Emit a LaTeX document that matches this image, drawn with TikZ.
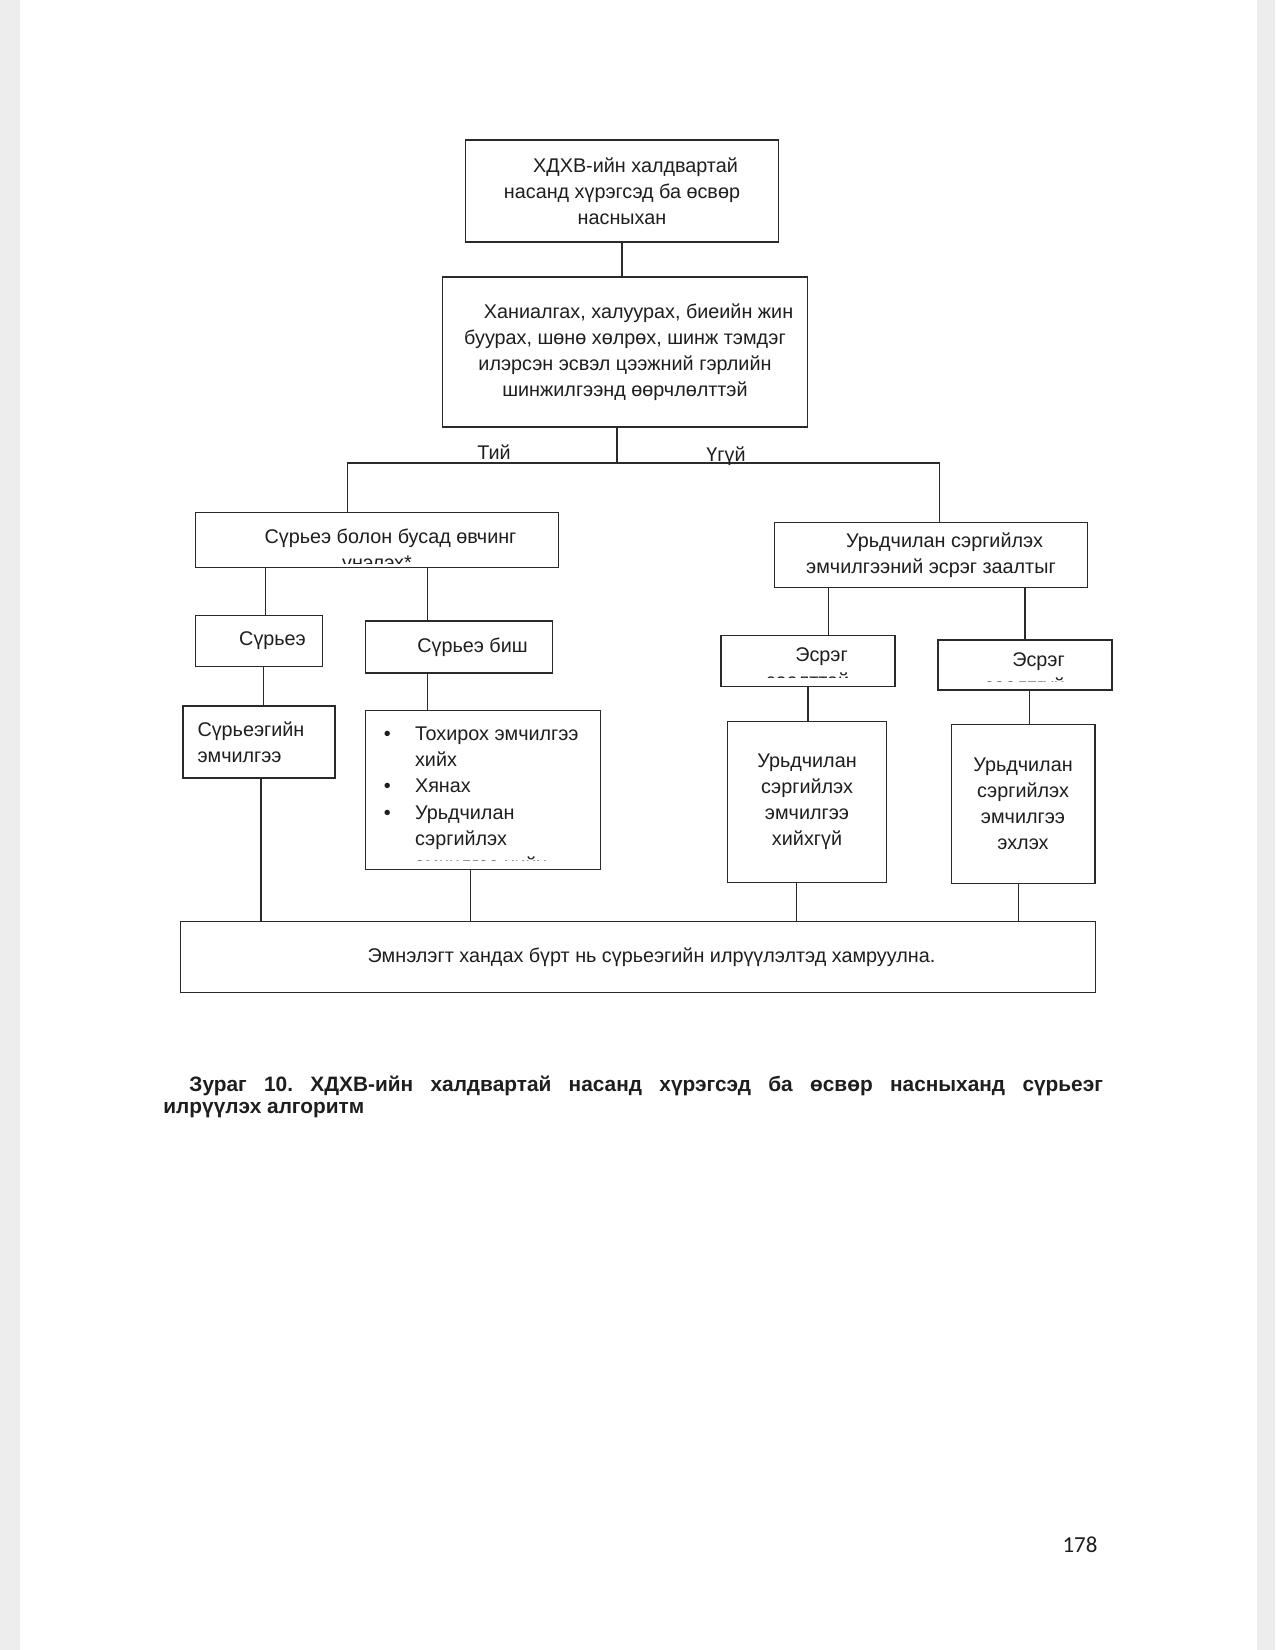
\documentclass[tikz,border=0pt]{standalone}
\usepackage{fontspec}
\setmainfont{Liberation Sans}
\newfontfamily\pagefont{Carlito}
\usetikzlibrary{positioning,calc}
\definecolor{Ink}{HTML}{1E1E1E}
\definecolor{Rule}{HTML}{2A2A2A}
\definecolor{Scan}{HTML}{EDEDED}
\tikzset{
  box/.style={draw=Rule,line width=0.6pt,fill=white,align=center,font=\fontsize{9.5}{12.5}\selectfont,text=Ink,inner sep=0pt},
  txt/.style={align=center,font=\fontsize{9.5}{12.5}\selectfont,text=Ink,inner sep=0pt},
  lbl/.style={font=\fontsize{9.5}{12}\selectfont,text=Ink,inner sep=1pt},
  link/.style={draw=Rule,line width=0.6pt}
}
\newcommand\ind{\hspace*{13pt}}
\newcommand\itm{\makebox[15pt][l]{\textbullet}}

\begin{document}
\begin{tikzpicture}[x=0.48pt,y=-0.48pt]
  \useasboundingbox (0,0) rectangle (1275,1650);
  \fill[Scan] (0,0) rectangle (20,1650);
  \fill[Scan] (1257,0) rectangle (1275,1650);

  % top of the tree
  \node[box,minimum width=150pt,minimum height=49pt] (top) at (622,191) {\ind ХДХВ-ийн халдвартай\\насанд хүрэгсэд ба өсвөр\\насныхан};
  \node[box,minimum width=175pt,minimum height=72pt] (sympt) at (625,352) {\ind Ханиалгах, халуурах, биеийн жин\\буурах, шөнө хөлрөх, шинж тэмдэг\\илэрсэн эсвэл цээжний гэрлийн\\шинжилгээнд өөрчлөлттэй};
  \coordinate (fork) at (617,463);
  \node[lbl] (yes) at (494,452) {Тий};
  \node[lbl] (no) at (726,456) {Үгүй};

  % second level
  \node[box,minimum width=174pt,minimum height=26.5pt] (tbeval) at (377,540) {};
  \begin{scope}
    \clip ([yshift=2.5pt]tbeval.south west) rectangle (tbeval.north east);
    \node[txt,anchor=north] (tbevaltx) at ([yshift=-8pt]tbeval.north) {\ind Сүрьеэ болон бусад өвчинг\\үнэлэх*};
  \end{scope}
  \node[box,minimum width=150pt,minimum height=31pt] (prev) at (931,555) {\ind Урьдчилан сэргийлэх\\эмчилгээний эсрэг заалтыг};

  % third level
  \node[box,minimum width=61pt,minimum height=24.5pt] (tb) at (259,641) {\ind Сүрьеэ};
  \node[box,minimum width=90pt,minimum height=25pt] (nottb) at (459,647) {\ind Сүрьеэ биш};
  \node[box,minimum width=83.5pt,minimum height=24.5pt] (ci) at (808,661) {};
  \begin{scope}
    \clip ([yshift=4.5pt]ci.south west) rectangle (ci.north east);
    \node[txt,anchor=north] (citx) at ([yshift=-6pt]ci.north) {\ind Эсрэг\\заалттай};
  \end{scope}
  \node[box,minimum width=83.5pt,minimum height=24pt] (noci) at (1025,665) {};
  \begin{scope}
    \clip ([yshift=4.5pt]noci.south west) rectangle (noci.north east);
    \node[txt,anchor=north] (nocitx) at ([yshift=-6pt]noci.north) {\ind Эсрэг\\заалтгүй};
  \end{scope}

  % fourth level
  \node[box,align=left,text width=59pt,inner xsep=7pt,minimum height=34.5pt] (tbtx) at (259,742) {Сүрьеэгийн\\эмчилгээ};
  \node[box,minimum width=113pt,minimum height=76pt] (care) at (483,790) {};
  \begin{scope}
    \clip ([yshift=4.5pt]care.south west) rectangle (care.north east);
    \node[txt,align=left,anchor=north west] (caretx) at ([xshift=9pt,yshift=-8pt]care.north west) {\itm Тохирох эмчилгээ\\\hspace*{15pt}хийх\\\itm Хянах\\\itm Урьдчилан\\\hspace*{15pt}сэргийлэх\\\hspace*{15pt}эмчилгээ хийх};
  \end{scope}
  \node[box,minimum width=76pt,minimum height=77pt] (noipt) at (807,802) {Урьдчилан\\сэргийлэх\\эмчилгээ\\хийхгүй};
  \node[box,minimum width=69pt,minimum height=76pt] (ipt) at (1023,804) {Урьдчилан\\сэргийлэх\\эмчилгээ\\эхлэх};

  % bottom
  \node[box,minimum width=439pt,minimum height=34pt] (screen) at (638,957) {\ind Эмнэлэгт хандах бүрт нь сүрьеэгийн илрүүлэлтэд хамруулна.};

  % connectors
  \draw[link] (top.south) -- (top.south |- sympt.north);
  \draw[link] (sympt.south -| fork) -- (fork);
  \draw[link] ([xshift=-14pt]tbeval.north) |- (fork) -| ([xshift=4pt]prev.north);
  \draw[link] ([xshift=3pt]tb.north |- tbeval.south) -- ([xshift=3pt]tb.north);
  \draw[link] ([xshift=-15pt]nottb.north |- tbeval.south) -- ([xshift=-15pt]nottb.north);
  \draw[link] ([xshift=10pt]ci.north |- prev.south) -- ([xshift=10pt]ci.north);
  \draw[link] (noci.north |- prev.south) -- (noci.north);
  \draw[link] ([xshift=2pt]tb.south) -- ([xshift=2pt]tb.south |- tbtx.north);
  \draw[link] ([xshift=-15pt]nottb.south) -- ([xshift=-15pt]nottb.south |- care.north);
  \draw[link] (ci.south) -- (ci.south |- noipt.north);
  \draw[link] ([xshift=2pt]noci.south) -- ([xshift=2pt]noci.south |- ipt.north);
  \draw[link] ([xshift=1pt]tbtx.south) -- ([xshift=1pt]tbtx.south |- screen.north);
  \draw[link] ([xshift=-6pt]care.south) -- ([xshift=-6pt]care.south |- screen.north);
  \draw[link] ([xshift=-5pt]noipt.south) -- ([xshift=-5pt]noipt.south |- screen.north);
  \draw[link] ([xshift=-2pt]ipt.south) -- ([xshift=-2pt]ipt.south |- screen.north);

  % caption and page number
  \node[anchor=north west,inner sep=0pt,text width=451pt,align=justify,text=Ink,font=\fontsize{10}{10.5}\selectfont\bfseries\frenchspacing] (caption) at (163,1076) {\noindent\hspace*{12.5pt}Зураг 10. ХДХВ-ийн халдвартай насанд хүрэгсэд ба өсвөр насныханд сүрьеэг\linebreak илрүүлэх алгоритм};
  \node[font=\pagefont\fontsize{11}{13}\selectfont,text=Ink,inner sep=0pt] (pagenum) at (1080,1545) {178};
\end{tikzpicture}
\end{document}
